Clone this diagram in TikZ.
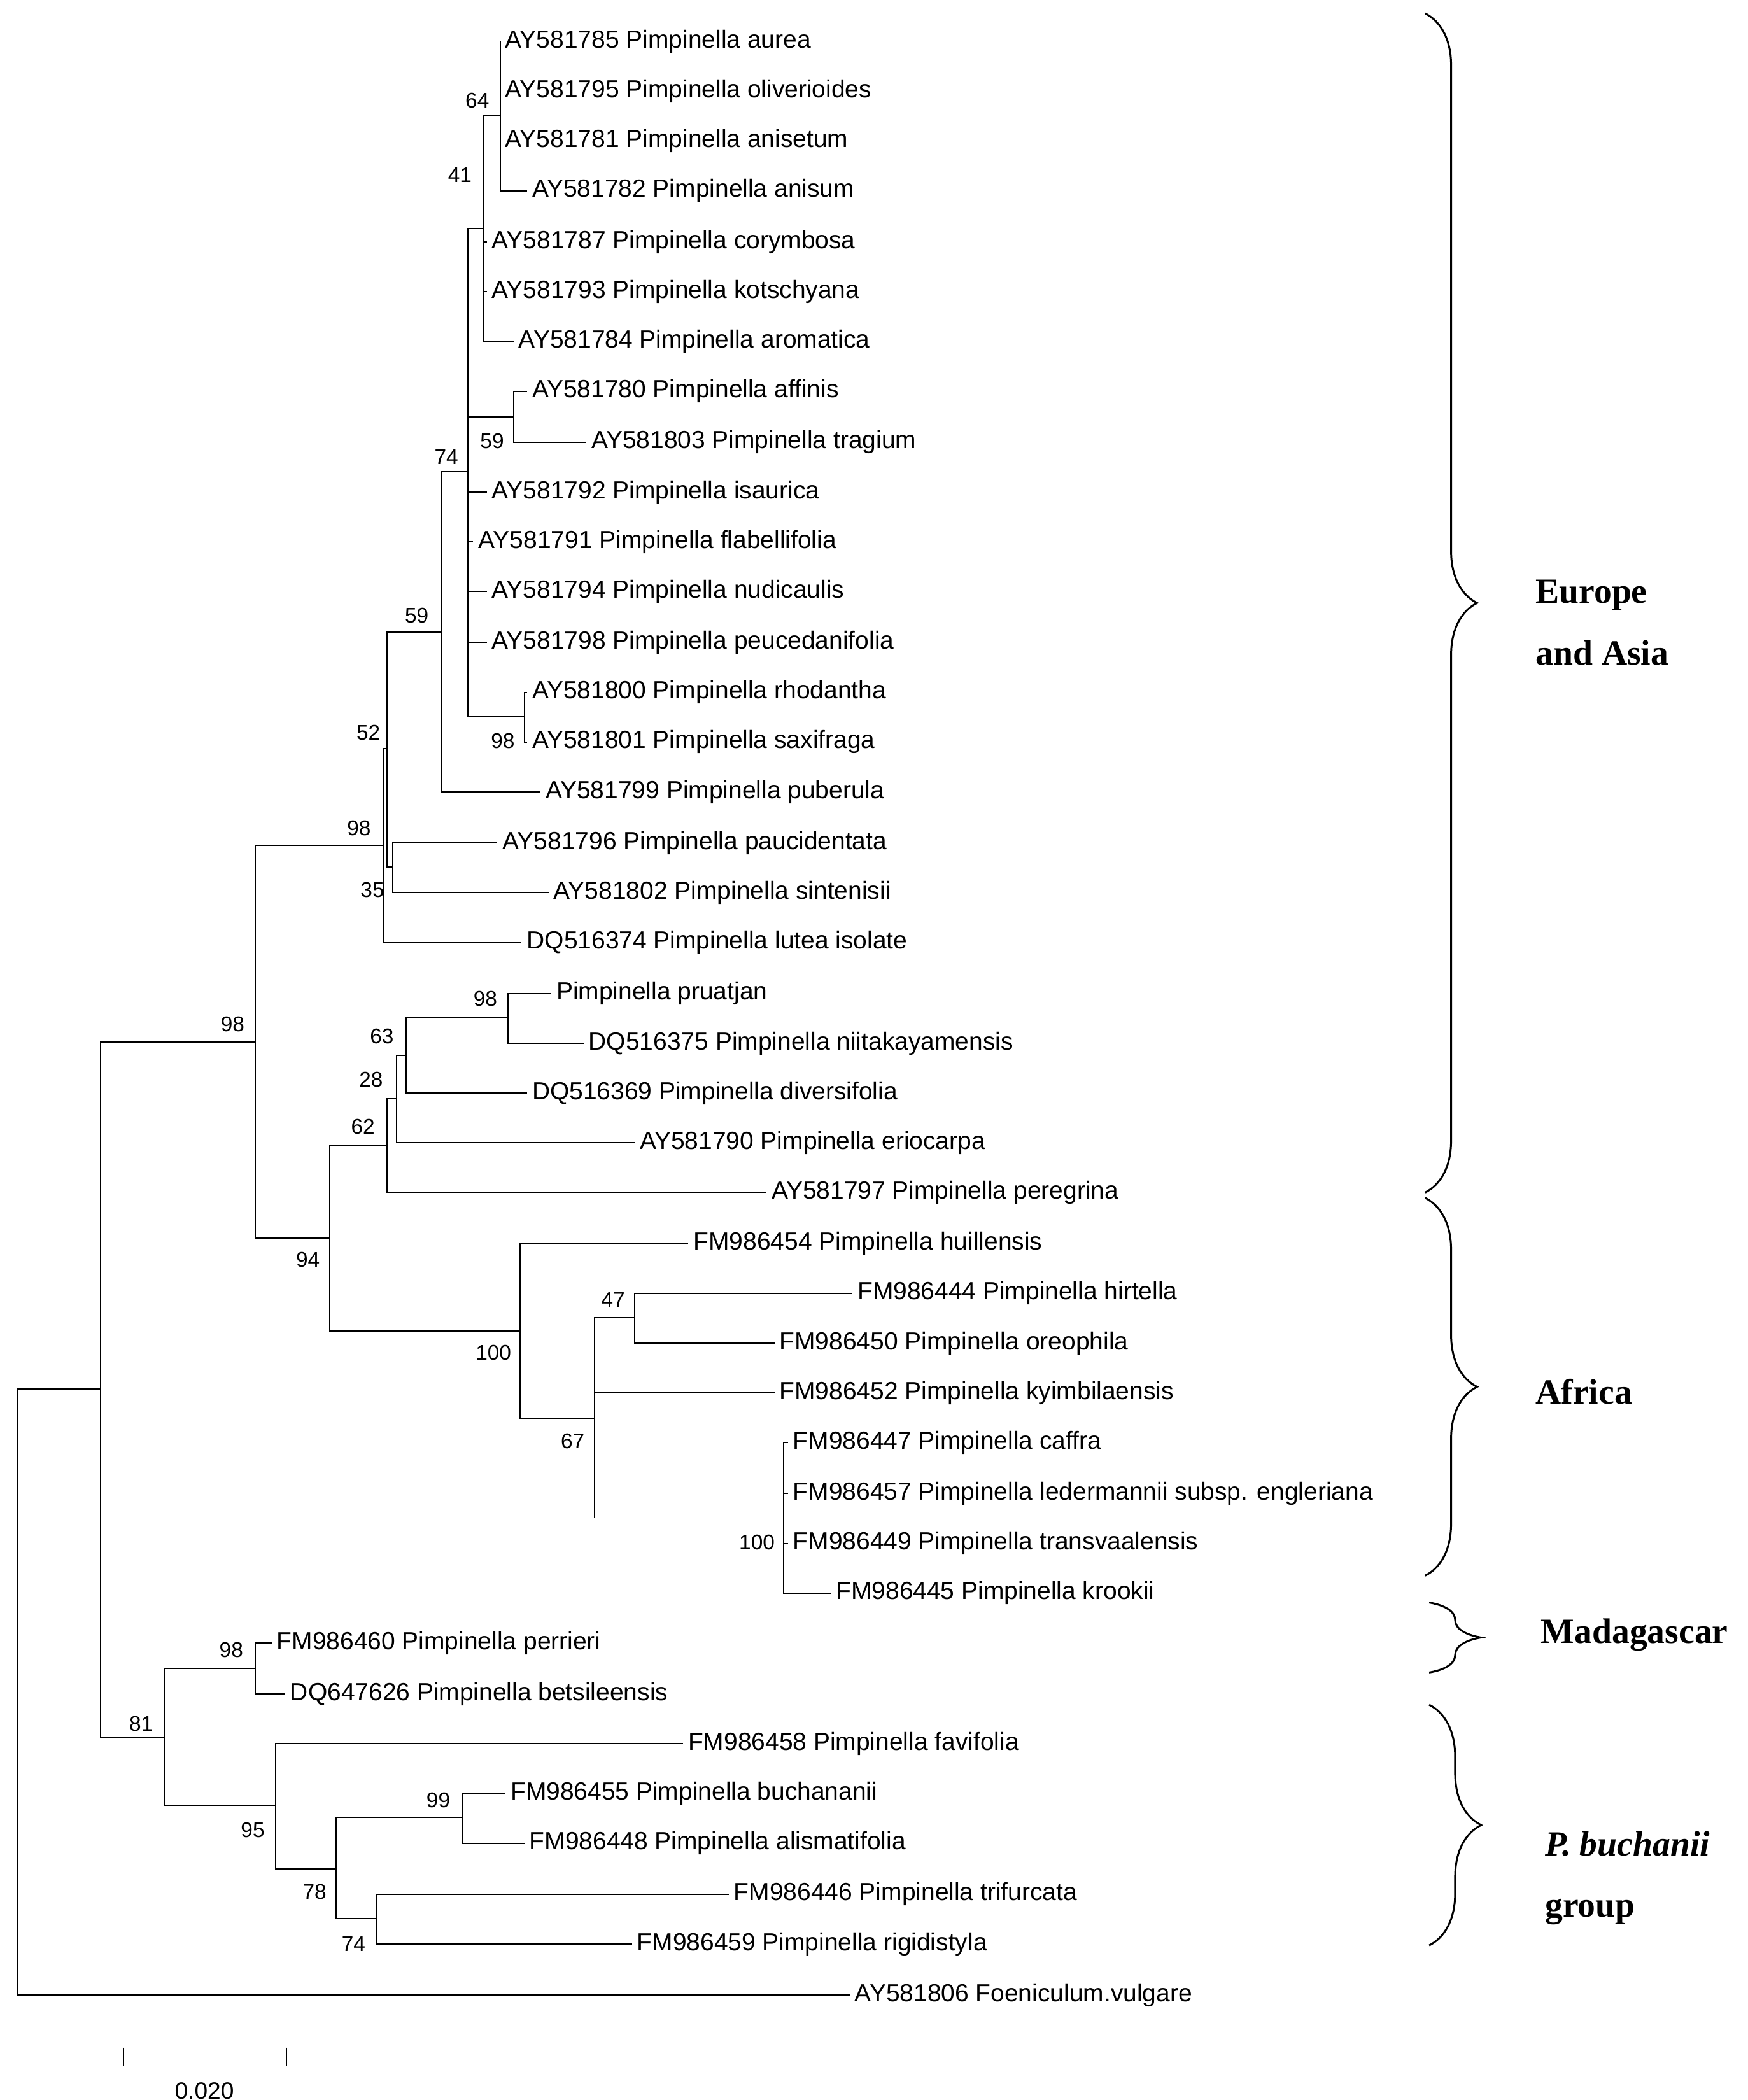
\documentclass[tikz,border=0pt]{standalone}
\usepackage{fontspec}
\setmainfont{Liberation Sans}
\newfontfamily\regionfont{Liberation Serif}
\usetikzlibrary{decorations.pathreplacing}

\begin{document}
\begin{tikzpicture}[
    x=0.02cm, y=-0.02cm,
    leaf/.style={anchor=west, inner sep=2pt, font=\fontsize{10.5}{12}\selectfont},
    boot/.style={font=\fontsize{9}{10}\selectfont, inner sep=0pt},
    branch/.style={line width=0.5pt},
    region/.style={font=\regionfont\bfseries\fontsize{15}{26}\selectfont, align=left},
    bracket/.style={decorate, decoration={brace, amplitude=22pt}, line width=0.8pt}
]
\useasboundingbox (0,0) rectangle (1300,1562);

% Leaves - Europe and Asia
\node[leaf] (l1) at (372,31) {AY581785 Pimpinella aurea};
\node[leaf] (l2) at (372,68) {AY581795 Pimpinella oliverioides};
\node[leaf] (l3) at (372,105) {AY581781 Pimpinella anisetum};
\node[leaf] (l4) at (392,142) {AY581782 Pimpinella anisum};
\node[leaf] (l5) at (362,180) {AY581787 Pimpinella corymbosa};
\node[leaf] (l6) at (362,217) {AY581793 Pimpinella kotschyana};
\node[leaf] (l7) at (382,254) {AY581784 Pimpinella aromatica};
\node[leaf] (l8) at (392,291) {AY581780 Pimpinella affinis};
\node[leaf] (l9) at (436,329) {AY581803 Pimpinella tragium};
\node[leaf] (l10) at (362,366) {AY581792 Pimpinella isaurica};
\node[leaf] (l11) at (352,403) {AY581791 Pimpinella flabellifolia};
\node[leaf] (l12) at (362,440) {AY581794 Pimpinella nudicaulis};
\node[leaf] (l13) at (362,478) {AY581798 Pimpinella peucedanifolia};
\node[leaf] (l14) at (392,515) {AY581800 Pimpinella rhodantha};
\node[leaf] (l15) at (392,552) {AY581801 Pimpinella saxifraga};
\node[leaf] (l16) at (402,589) {AY581799 Pimpinella puberula};
\node[leaf] (l17) at (370,627) {AY581796 Pimpinella paucidentata};
\node[leaf] (l18) at (408,664) {AY581802 Pimpinella sintenisii};
\node[leaf] (l19) at (388,701) {DQ516374 Pimpinella lutea isolate};
\node[leaf] (l20) at (410,739) {Pimpinella pruatjan};
\node[leaf] (l21) at (434,776) {DQ516375 Pimpinella niitakayamensis};
\node[leaf] (l22) at (392,813) {DQ516369 Pimpinella diversifolia};
\node[leaf] (l23) at (472,850) {AY581790 Pimpinella eriocarpa};
\node[leaf] (l24) at (570,887) {AY581797 Pimpinella peregrina};

% Leaves - Africa
\node[leaf] (l25) at (512,925) {FM986454 Pimpinella huillensis};
\node[leaf] (l26) at (634,962) {FM986444 Pimpinella hirtella};
\node[leaf] (l27) at (576,999) {FM986450 Pimpinella oreophila};
\node[leaf] (l28) at (576,1036) {FM986452 Pimpinella kyimbilaensis};
\node[leaf] (l29) at (586,1073) {FM986447 Pimpinella caffra};
\node[leaf] (l30) at (586,1111) {FM986457 Pimpinella ledermannii subsp. engleriana};
\node[leaf] (l31) at (586,1148) {FM986449 Pimpinella transvaalensis};
\node[leaf] (l32) at (618,1185) {FM986445 Pimpinella krookii};

% Leaves - Madagascar and P. buchanii group
\node[leaf] (l33) at (202,1222) {FM986460 Pimpinella perrieri};
\node[leaf] (l34) at (212,1260) {DQ647626 Pimpinella betsileensis};
\node[leaf] (l35) at (508,1297) {FM986458 Pimpinella favifolia};
\node[leaf] (l36) at (376,1334) {FM986455 Pimpinella buchananii};
\node[leaf] (l37) at (390,1371) {FM986448 Pimpinella alismatifolia};
\node[leaf] (l38) at (542,1409) {FM986446 Pimpinella trifurcata};
\node[leaf] (l39) at (470,1446) {FM986459 Pimpinella rigidistyla};
\node[leaf] (l40) at (632,1484) {AY581806 Foeniculum.vulgare};

% Internal nodes
\coordinate (n64) at (372,86);
\coordinate (n41) at (360,170);
\coordinate (n59a) at (382,310);
\coordinate (n98b) at (390,533);
\coordinate (n74) at (348,351);
\coordinate (n59b) at (328,470);
\coordinate (n35) at (292,645);
\coordinate (n52) at (288,557);
\coordinate (n98a) at (285,629);
\coordinate (n98c) at (378,757);
\coordinate (n63) at (302,785);
\coordinate (n28) at (295,817);
\coordinate (n62) at (288,852);
\coordinate (n47) at (472,980);
\coordinate (n100b) at (583,1129);
\coordinate (n67) at (442,1055);
\coordinate (n100) at (387,990);
\coordinate (n94) at (245,921);
\coordinate (n98) at (190,775);
\coordinate (n98m) at (190,1241);
\coordinate (n99) at (344,1352);
\coordinate (n74b) at (280,1427);
\coordinate (n78) at (250,1390);
\coordinate (n95) at (205,1343);
\coordinate (n81) at (122,1292);
\coordinate (n0) at (75,1033);
\coordinate (root) at (13,1258);

% Branches
\draw[branch] (n64) |- (l1.west) (n64) |- (l2.west) (n64) |- (l3.west) (n64) |- (l4.west);
\draw[branch] (n41) |- (n64) (n41) |- (l5.west) (n41) |- (l6.west) (n41) |- (l7.west);
\draw[branch] (n59a) |- (l8.west) (n59a) |- (l9.west);
\draw[branch] (n98b) |- (l14.west) (n98b) |- (l15.west);
\draw[branch] (n74) |- (n41) (n74) |- (n59a) (n74) |- (l10.west) (n74) |- (l11.west)
    (n74) |- (l12.west) (n74) |- (l13.west) (n74) |- (n98b);
\draw[branch] (n59b) |- (n74) (n59b) |- (l16.west);
\draw[branch] (n35) |- (l17.west) (n35) |- (l18.west);
\draw[branch] (n52) |- (n59b) (n52) |- (n35);
\draw[branch] (n98a) |- (n52) (n98a) |- (l19.west);
\draw[branch] (n98c) |- (l20.west) (n98c) |- (l21.west);
\draw[branch] (n63) |- (n98c) (n63) |- (l22.west);
\draw[branch] (n28) |- (n63) (n28) |- (l23.west);
\draw[branch] (n62) |- (n28) (n62) |- (l24.west);
\draw[branch] (n47) |- (l26.west) (n47) |- (l27.west);
\draw[branch] (n100b) |- (l29.west) (n100b) |- (l30.west) (n100b) |- (l31.west) (n100b) |- (l32.west);
\draw[branch] (n67) |- (n47) (n67) |- (l28.west) (n67) |- (n100b);
\draw[branch] (n100) |- (l25.west) (n100) |- (n67);
\draw[branch] (n94) |- (n62) (n94) |- (n100);
\draw[branch] (n98) |- (n98a) (n98) |- (n94);
\draw[branch] (n98m) |- (l33.west) (n98m) |- (l34.west);
\draw[branch] (n99) |- (l36.west) (n99) |- (l37.west);
\draw[branch] (n74b) |- (l38.west) (n74b) |- (l39.west);
\draw[branch] (n78) |- (n99) (n78) |- (n74b);
\draw[branch] (n95) |- (l35.west) (n95) |- (n78);
\draw[branch] (n81) |- (n98m) (n81) |- (n95);
\draw[branch] (n0) |- (n98) (n0) |- (n81);
\draw[branch] (root) |- (n0) (root) |- (l40.west);

% Bootstrap values
\node[boot] at (355,75) {64};
\node[boot] at (342,130) {41};
\node[boot] at (366,328) {59};
\node[boot] at (374,551) {98};
\node[boot] at (332,340) {74};
\node[boot] at (310,458) {59};
\node[boot] at (274,545) {52};
\node[boot] at (267,616) {98};
\node[boot] at (277,662) {35};
\node[boot] at (361,743) {98};
\node[boot] at (284,771) {63};
\node[boot] at (276,803) {28};
\node[boot] at (270,838) {62};
\node[boot] at (173,762) {98};
\node[boot] at (229,937) {94};
\node[boot] at (367,1006) {100};
\node[boot] at (456,967) {47};
\node[boot] at (426,1072) {67};
\node[boot] at (563,1147) {100};
\node[boot] at (172,1227) {98};
\node[boot] at (105,1282) {81};
\node[boot] at (188,1361) {95};
\node[boot] at (326,1339) {99};
\node[boot] at (234,1407) {78};
\node[boot] at (263,1446) {74};

% Region braces
\draw[bracket] (1060,10) -- (1060,887);
\draw[bracket] (1060,891) -- (1060,1172);
\draw[bracket] (1063,1192) -- (1063,1244);
\draw[bracket] (1063,1268) -- (1063,1447);
\node[region, anchor=west] (eur) at (1136,463) {Europe\\and Asia};
\node[region, anchor=west] (afr) at (1136,1035) {Africa};
\node[region, anchor=west] (mad) at (1140,1216) {Madagascar};
\node[region, anchor=west] (buc) at (1143,1397) {\itshape P. buchanii\\group};

% Scale bar
\coordinate (s1) at (92,1530);
\coordinate (s2) at (213,1530);
\draw[branch] (s1) -- (s2);
\draw[branch] (s1) ++(0,-7) -- ++(0,14);
\draw[branch] (s2) ++(0,-7) -- ++(0,14);
\node[boot, font=\fontsize{10}{11}\selectfont] (scl) at (152,1555) {0.020};
\end{tikzpicture}
\end{document}
